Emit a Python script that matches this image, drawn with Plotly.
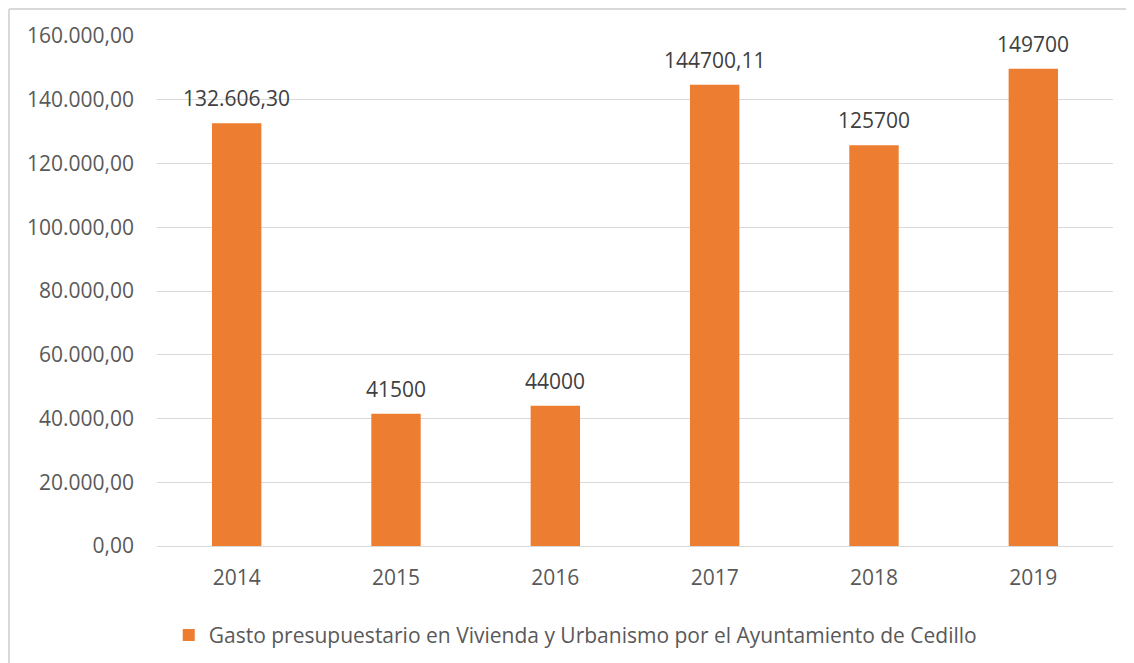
import plotly.graph_objects as go

years = ["2014", "2015", "2016", "2017", "2018", "2019"]
values = [132606.30, 41500, 44000, 144700.11, 125700, 149700]
labels = ["132.606,30", "41500", "44000", "144700,11", "125700", "149700"]
tick_vals = [0, 20000, 40000, 60000, 80000, 100000, 120000, 140000, 160000]
tick_text = ["0,00", "20.000,00", "40.000,00", "60.000,00", "80.000,00",
             "100.000,00", "120.000,00", "140.000,00", "160.000,00"]
series_name = "Gasto presupuestario en Vivienda y Urbanismo por el Ayuntamiento de Cedillo"

FONT = "Open Sans, Liberation Sans, sans-serif"
FS = 21
# page body has an 8px margin; figure sized to fit window
W, H = 1126, 655
ML, MR, MT, MB = 149, 21, 28, 117
PW, PH = W - ML - MR, H - MT - MB

fig = go.Figure()
fig.add_trace(go.Bar(
    x=years, y=values, name=series_name,
    marker=dict(color="#ED7D31", line=dict(width=0)),
    width=0.31,
    showlegend=True,
))

for i, (v, t) in enumerate(zip(values, labels)):
    fig.add_annotation(x=i, y=v, text=t, showarrow=False, yanchor="bottom",
                       yshift=9, font=dict(family=FONT, size=FS, color="#404040"))

def px2paper_x(px):
    return (px - ML) / PW

def px2paper_y(py):
    return (H - MB - py) / PH

# chart border (only top and left visible in the frame)
fig.add_shape(type="line", xref="paper", yref="paper",
              x0=px2paper_x(1), x1=px2paper_x(1),
              y0=px2paper_y(1), y1=px2paper_y(H + 5),
              line=dict(color="#D9D9D9", width=2), layer="below")
fig.add_shape(type="line", xref="paper", yref="paper",
              x0=px2paper_x(1), x1=px2paper_x(W + 5),
              y0=px2paper_y(1), y1=px2paper_y(1),
              line=dict(color="#D9D9D9", width=2), layer="below")

fig.update_layout(
    width=W, height=H,
    margin=dict(l=ML, r=MR, t=MT, b=MB, autoexpand=False),
    paper_bgcolor="white", plot_bgcolor="white",
    font=dict(family=FONT, size=FS, color="#595959"),
    legend=dict(orientation="h", x=0.438, xanchor="center", y=-0.135, yanchor="top",
                font=dict(family=FONT, size=FS, color="#595959"),
                itemwidth=30),
    xaxis=dict(type="category", automargin=False, showgrid=False, showline=False,
               ticks="", tickfont=dict(size=FS), ticklabelstandoff=17),
    yaxis=dict(range=[0, 160000], tickvals=tick_vals, ticktext=tick_text,
               automargin=False,
               showgrid=True, gridcolor="#D9D9D9", gridwidth=1,
               zeroline=True, zerolinecolor="#D9D9D9", zerolinewidth=1,
               showline=False, ticks="", tickfont=dict(size=FS),
               ticklabelstandoff=22),
)

fig.write_html("out.html")
